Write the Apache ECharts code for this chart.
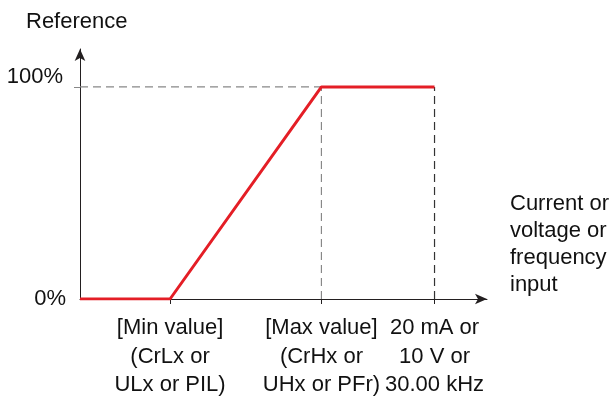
<!DOCTYPE html>
<html>
<head>
<meta charset="utf-8">
<script src="https://cdn.jsdelivr.net/npm/echarts@6/dist/echarts.min.js"></script>
<style>
  html, body { margin: 0; padding: 0; background: #fff; }
  #chart { width: 614px; height: 396px; }
</style>
</head>
<body>
<div id="chart"></div>
<script>
// input positions, 20 mA / 10 V / 30 kHz = 100
const xTickValues = [25.4, 68.1, 100];
const xTickLabels = [
  '[Min value]\n(CrLx or\nULx or PIL)',
  '[Max value]\n(CrHx or\nUHx or PFr)',
  '20 mA or\n10 V or\n30.00 kHz'
];
const yTickValues = [0, 100];
const yTickLabels = ['0%', '100%'];

// reference curve
const refX = [0, 25.4, 68.1, 100];
const refY = [0, 0, 100, 100];

// dashed guides
const guideTop = [[0, 100], [68.1, 100]];
const guideMax = [[68.1, 0], [68.1, 100]];
const guideEnd = [[100, 0], [100, 100]];

const FONT = '"Liberation Sans", Arial, sans-serif';

const chart = echarts.init(document.getElementById('chart'));

const option = {
  animation: false,
  title: {
    text: 'Reference',
    left: 21,
    top: 6,
    textStyle: { fontFamily: FONT, fontSize: 22, fontWeight: 'normal', color: '#111' }
  },
  graphic: [{
    type: 'text',
    left: 510,
    top: 190,
    style: {
      text: 'Current or\nvoltage or\nfrequency\ninput',
      font: '22px ' + FONT,
      lineHeight: 27,
      fill: '#111'
    }
  }],
  grid: { left: 80, right: 127, top: 49, bottom: 97, outerBoundsMode: 'none' },
  xAxis: {
    type: 'value',
    min: 0,
    max: 114.8,
    splitLine: { show: false },
    axisLine: {
      lineStyle: { color: '#231f20', width: 1 },
      symbol: ['none', 'arrow'],
      symbolSize: [8, 12]
    },
    axisTick: {
      customValues: xTickValues,
      length: 5,
      lineStyle: { color: '#231f20' }
    },
    axisLabel: {
      customValues: xTickValues,
      margin: 15,
      fontFamily: FONT,
      fontSize: 22,
      lineHeight: 28.5,
      color: '#111',
      formatter: v => xTickLabels[xTickValues.indexOf(v)]
    }
  },
  yAxis: {
    type: 'value',
    min: 0,
    max: 117.9,
    splitLine: { show: false },
    axisLine: {
      lineStyle: { color: '#231f20', width: 1 },
      symbol: ['none', 'arrow'],
      symbolSize: [8, 12]
    },
    axisTick: {
      customValues: [100],
      length: 6,
      lineStyle: { color: '#888' }
    },
    axisLabel: {
      customValues: yTickValues,
      margin: 14,
      fontFamily: FONT,
      fontSize: 22,
      color: '#111',
      formatter: v => v === 100 ? '{up|' + yTickLabels[1] + '}' : yTickLabels[0],
      rich: {
        up: { fontFamily: FONT, fontSize: 22, color: '#111', padding: [0, 3, 20, 0] }
      }
    }
  },
  series: [
    {
      type: 'line', data: guideTop, symbol: 'none', silent: true, z: 1,
      lineStyle: { color: '#888', width: 1.2, type: [8, 5] }
    },
    {
      type: 'line', data: guideMax, symbol: 'none', silent: true, z: 1,
      lineStyle: { color: '#888', width: 1.2, type: [8, 5] }
    },
    {
      type: 'line', data: guideEnd, symbol: 'none', silent: true, z: 1,
      lineStyle: { color: '#333', width: 1.2, type: [8, 5] }
    },
    {
      type: 'line',
      data: refX.map((x, i) => [x, refY[i]]),
      symbol: 'none',
      silent: true,
      z: 3,
      lineStyle: { color: '#e41e26', width: 3 }
    }
  ]
};

chart.setOption(option);
</script>
</body>
</html>
